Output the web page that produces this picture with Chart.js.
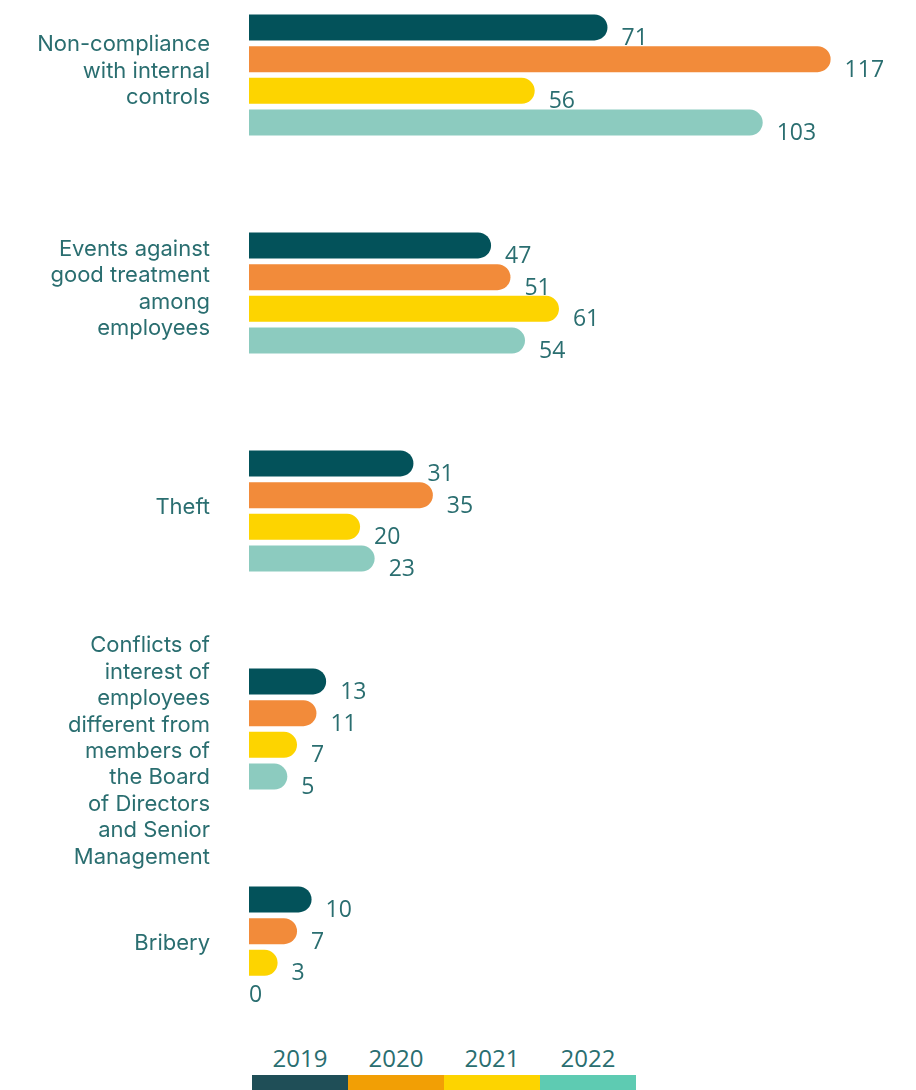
<!DOCTYPE html>
<html>
<head>
<meta charset="utf-8">
<script src="https://cdn.jsdelivr.net/npm/chart.js@4.4.1/dist/chart.umd.min.js"></script>
<style>
  body { margin: 0; background: #fff; }
  #wrap { position: relative; width: 916px; height: 1090px; }
  #chartBox { position: absolute; left: 0; top: 0; width: 916px; height: 1030px; }
  .legend { position: absolute; top: 1041px; left: 252px; display: flex; }
  .legend div { width: 96px; text-align: center; font-family: "Open Sans", sans-serif; font-size: 24px; color: #2a6e70; }
  .legend span { display: block; height: 17px; margin-top: 1px; }
</style>
</head>
<body>
<div id="wrap">
  <div id="chartBox"><canvas id="incidentsChart"></canvas></div>
  <div class="legend" id="legend"></div>
</div>
<script>
// --- Data ---
const categories = [
    ['Non-compliance', 'with internal', 'controls'],
    ['Events against', 'good treatment', 'among', 'employees'],
    ['Theft'],
    ['', '', 'Conflicts of', 'interest of', 'employees', 'different from', 'members of', 'the Board', 'of Directors', 'and Senior', 'Management'],
    ['Bribery']
];
const years = ['2019', '2020', '2021', '2022'];
const values2019 = [71, 47, 31, 13, 10];
const values2020 = [117, 51, 35, 11, 7];
const values2021 = [56, 61, 20, 7, 3];
const values2022 = [103, 54, 23, 5, 0];

// --- Styles ---
const barColors = ['#03525a', '#f28b3a', '#fdd400', '#8ccbbf'];
const legendColors = ['#1f4e57', '#f29f05', '#fdd400', '#5ecbb2'];
const textColor = '#2a6e70';

// --- Legend (HTML, year above a colour strip) ---
const legendEl = document.getElementById('legend');
years.forEach((y, i) => {
    const item = document.createElement('div');
    item.innerHTML = y + '<span style="background:' + legendColors[i] + '"></span>';
    legendEl.appendChild(item);
});

// value labels drawn next to each bar end
const valueLabels = {
    id: 'valueLabels',
    afterDatasetsDraw(chart) {
        const ctx = chart.ctx;
        ctx.save();
        ctx.font = '23px "Open Sans", sans-serif';
        ctx.fillStyle = textColor;
        ctx.textBaseline = 'middle';
        ctx.textAlign = 'left';
        chart.data.datasets.forEach((ds, di) => {
            chart.getDatasetMeta(di).data.forEach((bar, i) => {
                const v = ds.data[i];
                if (v === 0) {
                    ctx.fillText(String(v), bar.base, bar.y + 1);
                } else {
                    ctx.fillText(String(v), bar.x + 14, bar.y + 11);
                }
            });
        });
        ctx.restore();
    }
};

const allSeries = [values2019, values2020, values2021, values2022];

const ctx = document.getElementById('incidentsChart').getContext('2d');
new Chart(ctx, {
    type: 'bar',
    data: {
        labels: categories,
        datasets: allSeries.map((vals, i) => ({
            label: years[i],
            data: vals,
            base: -2.9,
            backgroundColor: (c) => (c.raw === 0 ? 'rgba(0,0,0,0)' : barColors[i]),
            borderRadius: { topRight: 13, bottomRight: 13, topLeft: 0, bottomLeft: 0 },
            borderSkipped: false,
            categoryPercentage: 0.582,
            barPercentage: 0.82,
            clip: false
        }))
    },
    options: {
        indexAxis: 'y',
        responsive: true,
        maintainAspectRatio: false,
        animation: false,
        layout: { padding: { top: 75, bottom: 83, left: 0, right: 0 } },
        plugins: {
            legend: { display: false },
            tooltip: { enabled: false }
        },
        scales: {
            x: {
                display: false,
                min: -2.9,
                max: 134.6
            },
            y: {
                offset: false,
                grid: { display: false },
                border: { display: false },
                afterFit(scale) { scale.width = 249; },
                ticks: {
                    color: textColor,
                    font: { family: 'Inter, sans-serif', size: 22, lineHeight: 1.2 },
                    padding: 31,
                    labelOffset: -4,
                    autoSkip: false
                }
            }
        }
    },
    plugins: [valueLabels]
});
</script>
</body>
</html>
